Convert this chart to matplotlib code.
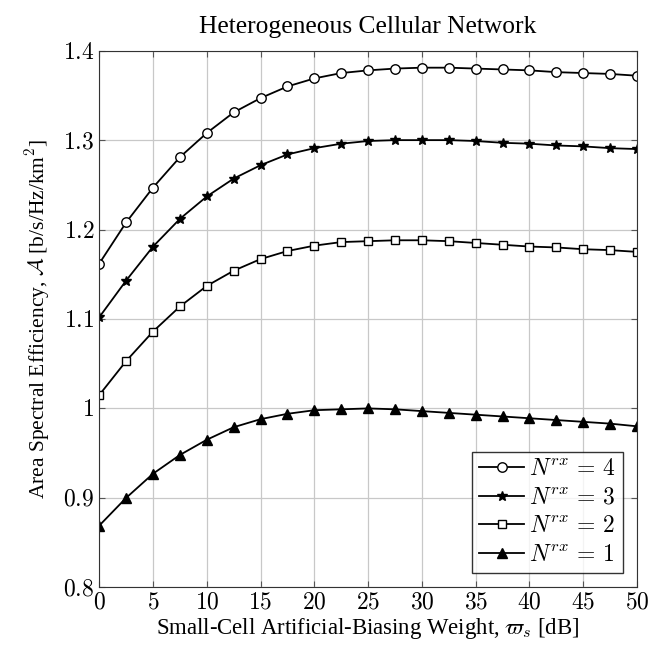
import matplotlib
matplotlib.use('Agg')
import matplotlib.pyplot as plt
from matplotlib.ticker import FuncFormatter

plt.rcParams['font.family'] = 'Liberation Serif'
plt.rcParams['mathtext.fontset'] = 'cm'

x = [0, 2.5, 5, 7.5, 10, 12.5, 15, 17.5, 20, 22.5, 25,
     27.5, 30, 32.5, 35, 37.5, 40, 42.5, 45, 47.5, 50]

n4 = [1.162, 1.208, 1.247, 1.281, 1.308, 1.331, 1.347, 1.360, 1.369, 1.375, 1.378,
      1.380, 1.381, 1.381, 1.380, 1.379, 1.378, 1.376, 1.375, 1.374, 1.372]
n3 = [1.102, 1.143, 1.181, 1.212, 1.237, 1.257, 1.272, 1.284, 1.291, 1.296, 1.299,
      1.300, 1.300, 1.300, 1.299, 1.297, 1.296, 1.294, 1.293, 1.291, 1.290]
n2 = [1.015, 1.053, 1.086, 1.114, 1.137, 1.154, 1.167, 1.176, 1.182, 1.186, 1.187,
      1.188, 1.188, 1.187, 1.185, 1.183, 1.181, 1.180, 1.178, 1.177, 1.175]
n1 = [0.869, 0.900, 0.927, 0.948, 0.965, 0.979, 0.988, 0.994, 0.998, 0.999, 1.000,
      0.999, 0.997, 0.995, 0.993, 0.991, 0.989, 0.987, 0.985, 0.983, 0.980]

# (values, marker, size, filled, label)
series = [(n4, 'o', 6.8, False, r'$N^{rx}\,=\,4$'),
          (n3, '*', 7.5, True, r'$N^{rx}\,=\,3$'),
          (n2, 's', 6.0, False, r'$N^{rx}\,=\,2$'),
          (n1, '^', 6.5, True, r'$N^{rx}\,=\,1$')]

fig = plt.figure(figsize=(6.51, 6.54), dpi=100)
ax = fig.add_axes([0.1525, 0.102, 0.826, 0.8205])

for y, m, ms, filled, lab in series:
    ax.plot(x, y, color='black', linewidth=1.3, marker=m, markersize=ms,
            markerfacecolor='black' if filled else 'white',
            markeredgecolor='black', markeredgewidth=1.0, label=lab)

ax.set_xlim(0, 50)
ax.set_ylim(0.8, 1.4)
ax.set_xticks(range(0, 51, 5))
ax.set_yticks([0.8, 0.9, 1.0, 1.1, 1.2, 1.3, 1.4])
fmt = FuncFormatter(lambda v, p: r'$%g$' % round(v, 2))
ax.xaxis.set_major_formatter(fmt)
ax.yaxis.set_major_formatter(fmt)
ax.tick_params(labelsize=17, direction='in', length=4, color='#555555',
               top=True, right=True)
ax.grid(True, color='#c8c8c8', linewidth=0.9)
for s in ax.spines.values():
    s.set_color('#333333')

ax.set_title('Heterogeneous Cellular Network', fontsize=18.4, pad=13)
ax.set_xlabel(r'Small-Cell Artificial-Biasing Weight, $\varpi_s$ [dB]', fontsize=16.4, labelpad=2)
ax.set_ylabel(r'Area Spectral Efficiency, $\mathcal{A}$ [b/s/Hz/km$^2$]', fontsize=15.5, labelpad=8)

leg = ax.legend(loc='lower right', fontsize=17, frameon=True, fancybox=False,
                edgecolor='black', handlelength=1.9, handletextpad=0.2,
                borderpad=0.3, labelspacing=0.3, borderaxespad=0.6)
leg.get_frame().set_linewidth(1.0)

fig.savefig('out.png', dpi=100)
